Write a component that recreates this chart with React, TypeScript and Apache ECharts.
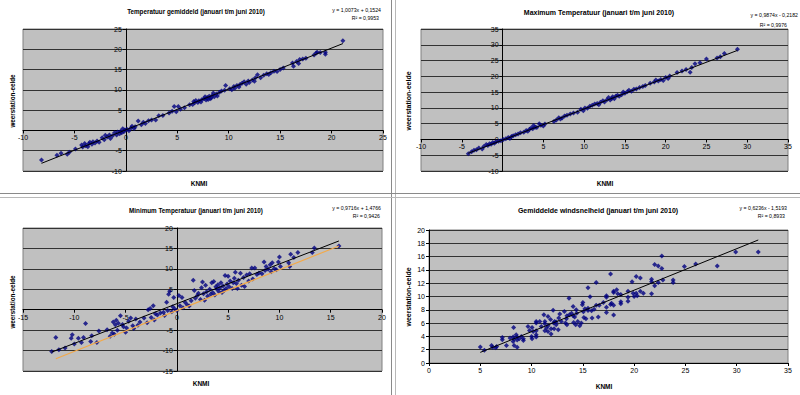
import React, { useEffect, useRef } from "react";
import * as echarts from "echarts";

const FONT = "'Liberation Sans', Arial, sans-serif";

// Temperatuur gemiddeld: [KNMI, weerstation-eelde]
const meanTemp: number[][] = [
  [-8.2, -7.3], [-6.7, -6.1], [-6.3, -5.6], [-5.7, -5.9], [-5.5, -5.4], [-4.9, -4.6], [-4.3, -3.6], [-4.2, -4.1],
  [-4.0, -3.2], [-3.9, -3.8], [-3.7, -4.0], [-3.6, -3.3], [-3.5, -2.9], [-3.3, -3.4], [-3.2, -2.8], [-3.0, -3.1],
  [-2.8, -2.6], [-2.6, -2.9], [-2.3, -1.8], [-2.1, -2.3], [-2.0, -1.2], [-1.8, -1.6], [-1.6, -1.1], [-1.5, -2.0],
  [-1.3, -1.3], [-1.1, -0.6], [-0.9, -1.1], [-0.8, -0.4], [-0.6, -0.8], [-0.5, -0.2], [-0.4, -0.6], [-0.3, 0.4],
  [-0.2, -0.3], [-0.1, 0.1], [0.1, 0.3], [0.3, -0.1], [0.5, 0.6], [0.6, 1.0], [0.8, 0.5], [0.9, 0.9],
  [1.2, 2.3], [1.5, 1.4], [1.7, 2.0], [1.9, 1.7], [2.2, 2.4], [2.5, 2.6], [2.9, 2.6], [3.2, 3.6],
  [3.6, 3.7], [4.2, 4.3], [4.5, 4.7], [4.7, 5.9], [4.9, 4.6], [5.1, 5.9], [5.3, 5.2], [5.7, 5.6],
  [6.2, 6.3], [6.5, 6.4], [6.6, 7.1], [6.7, 6.8], [6.8, 7.4], [7.0, 6.9], [7.1, 7.3], [7.3, 7.0],
  [7.4, 7.6], [7.6, 7.8], [7.7, 8.3], [7.8, 7.5], [7.9, 8.1], [8.0, 7.6], [8.1, 8.4], [8.2, 7.8],
  [8.3, 8.0], [8.4, 8.6], [8.5, 9.2], [8.6, 8.3], [8.8, 9.0], [8.9, 8.5], [9.1, 9.4], [9.3, 9.7],
  [9.7, 11.1], [9.6, 9.9], [10.1, 10.3], [10.3, 10.0], [10.5, 10.8], [10.6, 10.4], [10.8, 11.1], [11.0, 10.7],
  [11.1, 11.3], [11.3, 11.6], [11.5, 12.0], [11.7, 11.4], [11.9, 12.2], [12.0, 11.8], [12.3, 12.4], [12.5, 12.1],
  [12.6, 13.0], [12.8, 13.7], [13.1, 13.0], [13.4, 13.6], [13.7, 14.0], [13.9, 13.8], [14.1, 14.2], [14.4, 14.6],
  [14.7, 14.5], [15.0, 15.0], [15.3, 15.4], [16.2, 16.6], [16.3, 15.8], [16.6, 17.0], [16.8, 16.5], [16.9, 17.5],
  [17.2, 17.6], [17.5, 17.8], [18.3, 18.6], [18.5, 19.1], [18.6, 19.3], [18.9, 19.2], [19.4, 18.8], [19.4, 19.3],
  [21.1, 22.1],
];

// Maximum Temperatuur
const maxTemp: number[][] = [
  [-4.2, -4.5], [-3.8, -3.9], [-3.5, -3.4], [-3.2, -3.3], [-2.9, -2.7], [-2.5, -3.0], [-2.3, -2.2], [-2.0, -1.6],
  [-1.8, -1.9], [-1.6, -1.4], [-1.4, -1.5], [-1.2, -1.0], [-1.0, -1.2], [-0.8, -0.7], [-0.5, -0.6], [-0.2, -0.4],
  [0.1, 0.0], [0.4, 0.2], [0.7, 0.6], [0.9, 0.3], [1.1, 0.9], [1.3, 1.2], [1.6, 1.5], [1.9, 1.7],
  [2.2, 2.1], [2.6, 2.3], [2.9, 2.8], [3.1, 2.6], [3.3, 3.2], [3.5, 3.6], [3.7, 3.4], [3.8, 4.4],
  [4.0, 3.9], [4.2, 3.8], [4.5, 5.0], [4.7, 4.5], [5.0, 4.3], [5.2, 4.9], [6.3, 5.7], [6.6, 6.2],
  [6.9, 6.9], [7.1, 6.5], [7.3, 6.8], [7.6, 7.4], [7.9, 7.7], [8.3, 8.1], [8.7, 8.4], [9.2, 8.6],
  [9.6, 9.6], [9.9, 9.1], [10.1, 10.0], [10.4, 9.9], [10.7, 10.5], [11.0, 10.8], [11.3, 11.2], [11.6, 11.4],
  [11.8, 11.0], [12.0, 11.8], [12.3, 12.3], [12.5, 11.9], [12.8, 12.6], [13.0, 13.3], [13.2, 12.5], [13.4, 13.0],
  [13.5, 13.5], [13.7, 12.9], [13.9, 13.8], [14.1, 14.0], [14.3, 13.7], [14.6, 14.2], [14.8, 15.0], [15.0, 14.6],
  [15.3, 15.1], [15.5, 15.6], [15.8, 15.3], [16.1, 15.9], [16.4, 16.0], [16.8, 16.5], [17.2, 16.8], [17.5, 17.1],
  [18.1, 17.8], [18.6, 18.2], [18.8, 18.8], [19.1, 18.5], [19.4, 19.0], [19.7, 18.7], [20.0, 19.6], [20.3, 19.3],
  [20.5, 20.1], [21.4, 21.2], [22.0, 21.7], [22.5, 22.2], [23.0, 21.3], [23.2, 22.8], [23.6, 24.0], [24.2, 24.3],
  [25.0, 25.5], [26.3, 25.8], [26.7, 26.2], [27.2, 27.2], [28.8, 28.6],
];

// Minimum Temperatuur
const minTemp: number[][] = [
  [-12.2, -10.2], [-11.8, -6.8], [-11.5, -9.8], [-10.9, -9.4], [-10.3, -7.0], [-10.2, -6.1], [-10.0, -8.4], [-9.6, -7.0],
  [-9.3, -8.0], [-9.1, -6.8], [-8.9, -3.4], [-8.4, -7.8], [-8.3, -6.4], [-7.8, -8.0], [-7.6, -5.2], [-6.8, -4.9],
  [-6.5, -6.5], [-6.3, -5.7], [-6.2, -3.0], [-6.1, -6.0], [-6.0, -3.7], [-5.9, -2.6], [-5.8, -5.0], [-5.7, -3.3],
  [-5.5, -1.5], [-5.3, -3.6], [-5.2, -4.2], [-5.0, -5.5], [-4.9, -4.5], [-4.7, -2.8], [-4.5, -2.0], [-4.3, -3.9],
  [-4.2, -4.6], [-4.0, -2.3], [-3.8, -3.8], [-3.6, -3.0], [-3.2, -2.0], [-2.9, -3.2], [-2.8, 0.0], [-2.6, 0.3],
  [-2.5, -1.9], [-2.3, 1.0], [-2.2, -2.5], [-2.1, -1.0], [-1.9, -1.3], [-1.6, -0.8], [-1.3, -0.6], [-1.2, -1.4],
  [-1.0, 1.8], [-0.9, -0.2], [-0.8, 3.8], [-0.7, 4.5], [-0.5, -0.5], [-0.4, 0.7], [-0.3, 3.0], [-0.2, 0.2],
  [0.0, -0.2], [0.2, 3.5], [0.3, 1.0], [0.5, 3.0], [0.6, 0.5], [0.8, 1.8], [1.0, 1.2], [1.2, 0.9],
  [1.4, 2.2], [1.6, 7.2], [1.7, 4.7], [1.8, 2.8], [2.0, 3.5], [2.1, 4.0], [2.3, 2.5], [2.4, 5.4],
  [2.5, 6.8], [2.6, 3.9], [2.7, 2.3], [2.8, 6.0], [2.9, 4.4], [3.0, 3.3], [3.2, 5.0], [3.3, 3.8],
  [3.4, 6.6], [3.5, 4.2], [3.6, 6.9], [3.7, 3.6], [3.8, 5.6], [3.9, 5.0], [4.0, 6.1], [4.1, 4.4],
  [4.2, 5.4], [4.3, 6.6], [4.4, 4.2], [4.5, 5.8], [4.6, 4.7], [4.7, 8.4], [4.8, 5.2], [4.9, 6.3],
  [5.0, 8.2], [5.1, 5.6], [5.2, 7.0], [5.4, 5.2], [5.5, 6.6], [5.6, 7.7], [5.7, 9.2], [5.8, 6.4],
  [5.9, 5.2], [6.0, 7.2], [6.2, 8.9], [6.3, 6.0], [6.5, 7.9], [6.6, 5.7], [6.8, 8.5], [7.0, 7.0],
  [7.1, 8.8], [7.3, 10.2], [7.4, 7.5], [7.6, 10.2], [7.8, 8.6], [8.0, 9.0], [8.3, 8.8], [8.5, 11.7],
  [8.6, 9.6], [8.7, 10.6], [8.9, 9.9], [9.1, 11.0], [9.2, 9.3], [9.3, 11.5], [9.5, 10.1], [9.7, 9.8],
  [9.9, 11.7], [10.0, 12.9], [10.1, 10.6], [10.9, 11.5], [11.0, 10.6], [11.1, 13.6], [11.4, 12.8], [11.8, 14.0],
  [13.2, 14.0], [13.4, 15.1], [15.8, 15.6],
];

// Gemiddelde windsnelheid
const windSpeed: number[][] = [
  [5.0, 2.4], [5.4, 1.9], [6.1, 2.65], [6.2, 2.35], [6.6, 2.5], [6.5, 2.3], [7.15, 3.85], [7.15, 3.5],
  [7.55, 2.65], [7.9, 3.75], [8.2, 3.9], [8.2, 3.25], [8.25, 5.35], [8.3, 2.65], [8.3, 3.6], [8.5, 4.25],
  [8.6, 3.45], [8.6, 2.35], [8.6, 3.9], [8.8, 3.65], [9.0, 4.0], [9.2, 3.65], [9.2, 3.4], [9.65, 5.5],
  [9.8, 4.9], [10.0, 4.0], [10.05, 3.65], [10.05, 5.35], [10.15, 4.75], [10.45, 6.25], [10.45, 6.0], [10.45, 4.25],
  [10.45, 4.85], [10.45, 3.9], [10.8, 6.25], [10.95, 5.5], [11.2, 7.25], [11.3, 6.25], [11.3, 4.85], [11.3, 5.9],
  [11.45, 5.25], [11.6, 4.75], [11.6, 7.0], [11.6, 5.6], [11.85, 6.55], [11.9, 4.35], [11.9, 5.15], [12.1, 7.95],
  [12.15, 6.0], [12.2, 5.15], [12.25, 6.25], [12.4, 6.15], [12.4, 5.75], [12.6, 5.0], [12.65, 6.75], [12.75, 7.35],
  [12.9, 6.25], [13.2, 7.75], [13.3, 6.0], [13.4, 6.65], [13.45, 5.75], [13.45, 7.1], [13.65, 9.75], [13.7, 7.25],
  [13.9, 7.5], [14.05, 8.5], [14.05, 7.1], [14.1, 6.1], [14.2, 6.9], [14.3, 5.75], [14.35, 8.0], [14.4, 7.5],
  [14.5, 6.25], [14.7, 5.6], [14.85, 6.0], [14.95, 8.75], [15.0, 9.1], [15.05, 7.7], [15.1, 6.85], [15.2, 8.15],
  [15.3, 6.65], [15.5, 8.25], [15.5, 11.3], [15.5, 7.9], [15.7, 9.95], [15.85, 7.85], [15.9, 6.75], [16.1, 8.1],
  [16.3, 12.1], [16.3, 8.7], [16.5, 6.9], [16.6, 8.7], [17.0, 9.1], [17.3, 10.1], [17.3, 9.9], [17.3, 8.4],
  [17.3, 7.6], [17.7, 13.4], [17.7, 8.8], [17.8, 9.0], [18.0, 10.8], [18.0, 10.6], [18.0, 7.2], [18.0, 8.7],
  [18.3, 11.0], [18.4, 10.4], [18.7, 10.3], [18.7, 9.2], [18.7, 8.9], [19.4, 10.8], [19.4, 9.9], [19.4, 9.3],
  [19.8, 12.2], [19.9, 10.5], [20.0, 10.0], [20.2, 13.0], [20.2, 10.5], [20.3, 10.1], [20.6, 12.8], [20.6, 10.8],
  [20.9, 10.5], [21.7, 12.6], [21.7, 12.2], [21.7, 10.4], [22.0, 14.8], [22.0, 11.6], [22.35, 14.6], [22.35, 12.1],
  [22.7, 16.1], [22.7, 14.2], [22.8, 12.5], [23.8, 12.5], [23.8, 12.1], [24.9, 14.5], [26.0, 14.9], [28.1, 14.6],
  [29.9, 16.7], [32.1, 16.7],
];

// reference line y = x in the minimum-temperature chart
const minTempReference: number[][] = [[-11.8, -12.0], [15.8, 15.6]];

const titles = [
  "Temperatuur gemiddeld (januari t/m juni 2010)",
  "Maximum Temperatuur (januari t/m juni 2010)",
  "Minimum Temperatuur (januari t/m juni 2010)",
  "Gemiddelde windsnelheid (januari t/m juni 2010)",
];
const equations = [
  "y = 1,0073x + 0,1524",
  "y = 0,9874x - 0,2182",
  "y = 0,9716x + 1,4766",
  "y = 0,6236x - 1,5193",
];
const rSquared = ["R² = 0,9953", "R² = 0,9976", "R² = 0,9426", "R² = 0,8933"];
const trendSlope = [1.0073, 0.9874, 0.9716, 0.6236];
const trendIntercept = [0.1524, -0.2182, 1.4766, -1.5193];
const xMin = [-10, -10, -15, 0];
const xMax = [25, 35, 20, 35];
const yMin = [-10, -10, -15, 0];
const yMax = [25, 35, 20, 20];
const yInterval = [5, 5, 5, 2];
const xAxisName = "KNMI";
const yAxisName = "weerstation-eelde";

const datasets = [meanTemp, maxTemp, minTemp, windSpeed];

// layout
const grids = [
  { left: 23, top: 29, width: 360, height: 142 },
  { left: 421, top: 29, width: 367, height: 142 },
  { left: 23, top: 228, width: 359, height: 143 },
  { left: 429, top: 230, width: 359, height: 133 },
];
const titlePos = [[196, 11], [599, 12.5], [196, 210], [598, 210]];
const titleSize = [6.3, 7, 6.3, 7];
const eqPos = [[381, 10, 379, 17.5], [798, 15, 787, 24.5], [381, 207.5, 380, 215.5], [787, 207.5, 785, 216]];
const yNamePos = [[12, 101], [408, 101], [12, 302], [408, 297]];
const xNamePos = [[199, 183], [605, 183.5], [201, 383.5], [604, 386.5]];

function trendLine(i: number): number[][] {
  const xs = datasets[i].map((p) => p[0]);
  const a = Math.min(...xs);
  const b = Math.max(...xs);
  return [a, b].map((x) => [x, trendSlope[i] * x + trendIntercept[i]]);
}

// distance (px) of the value 0 from the grid's lower / left edge, used to let the axes cross at zero
function zeroOffset(min: number, max: number, size: number): number {
  if (min >= 0) return 0;
  return -((0 - min) / (max - min)) * size;
}

export default function App() {
  const ref = useRef<HTMLDivElement>(null);
  useEffect(() => {
    if (!ref.current) return;
    const chart = echarts.init(ref.current, undefined, { renderer: "svg" });
    const axisLabel = { fontSize: 7, color: "#000", fontFamily: FONT, margin: 4 };
    const xAxis = grids.map((g, i) => ({
      type: "value",
      gridIndex: i,
      position: "bottom",
      offset: zeroOffset(yMin[i], yMax[i], g.height),
      min: xMin[i],
      max: xMax[i],
      interval: 5,
      axisLine: { show: true, onZero: false, lineStyle: { color: "#000", width: 1 } },
      axisTick: { show: true, length: 3, lineStyle: { color: "#000" } },
      axisLabel: {
        ...axisLabel,
        formatter: (v: number) => (i === 1 && v === 0 ? "" : String(v)),
      },
      splitLine: { show: false },
    }));
    const yAxis = grids.map((g, i) => ({
      type: "value",
      gridIndex: i,
      position: "left",
      offset: zeroOffset(xMin[i], xMax[i], g.width),
      min: yMin[i],
      max: yMax[i],
      interval: yInterval[i],
      axisLine: { show: true, onZero: false, lineStyle: { color: "#000", width: 1 } },
      axisTick: { show: true, length: 3, lineStyle: { color: "#000" } },
      axisLabel: {
        ...axisLabel,
        formatter: (v: number) => ((i === 0 || i === 2) && v === 0 ? "" : String(v)),
      },
      splitLine: { show: true, lineStyle: { color: "#333", width: 1 } },
    }));
    const series: any[] = [];
    datasets.forEach((d, i) => {
      series.push({
        type: "scatter",
        xAxisIndex: i,
        yAxisIndex: i,
        data: d,
        symbol: "diamond",
        symbolSize: 5,
        itemStyle: { color: "#000080" },
        z: 2,
      });
    });
    series.push({
      type: "line",
      xAxisIndex: 2,
      yAxisIndex: 2,
      data: minTempReference,
      symbol: "none",
      lineStyle: { color: "#F2A94A", width: 1.2 },
      z: 3,
    });
    datasets.forEach((_, i) => {
      series.push({
        type: "line",
        xAxisIndex: i,
        yAxisIndex: i,
        data: trendLine(i),
        symbol: "none",
        lineStyle: { color: "#000", width: 1 },
        z: 4,
      });
    });

    const graphics: any[] = [];
    // sheet separators
    graphics.push({ type: "line", shape: { x1: 391.5, y1: 0, x2: 391.5, y2: 395 }, style: { stroke: "#8a8a8a", lineWidth: 1 } });
    graphics.push({ type: "line", shape: { x1: 395.5, y1: 0, x2: 395.5, y2: 395 }, style: { stroke: "#b8b8b8", lineWidth: 1 } });
    graphics.push({ type: "line", shape: { x1: 0, y1: 193.5, x2: 800, y2: 193.5 }, style: { stroke: "#8a8a8a", lineWidth: 1 } });
    graphics.push({ type: "line", shape: { x1: 0, y1: 197.5, x2: 800, y2: 197.5 }, style: { stroke: "#b8b8b8", lineWidth: 1 } });
    titles.forEach((t, i) => {
      graphics.push({
        type: "text",
        x: titlePos[i][0],
        y: titlePos[i][1],
        style: { text: t, fontSize: titleSize[i], fontWeight: "bold", fontFamily: FONT, fill: "#000", align: "center", verticalAlign: "middle" },
      });
      graphics.push({
        type: "text",
        x: eqPos[i][0],
        y: eqPos[i][1],
        style: { text: equations[i], fontSize: 5.2, fontFamily: FONT, fill: "#000", align: "right", verticalAlign: "middle" },
      });
      graphics.push({
        type: "text",
        x: eqPos[i][2],
        y: eqPos[i][3],
        style: { text: rSquared[i], fontSize: 5.2, fontFamily: FONT, fill: "#000", align: "right", verticalAlign: "middle" },
      });
      graphics.push({
        type: "text",
        x: yNamePos[i][0],
        y: yNamePos[i][1],
        rotation: Math.PI / 2,
        style: { text: yAxisName, fontSize: i % 2 === 0 ? 6.3 : 7, fontWeight: "bold", fontFamily: FONT, fill: "#000", align: "center", verticalAlign: "middle" },
      });
      graphics.push({
        type: "text",
        x: xNamePos[i][0],
        y: xNamePos[i][1],
        style: { text: xAxisName, fontSize: 6.5, fontWeight: "bold", fontFamily: FONT, fill: "#000", align: "center", verticalAlign: "middle" },
      });
    });

    chart.setOption({
      animation: false,
      backgroundColor: "#fff",
      grid: grids.map((g) => ({
        ...g,
        show: true,
        backgroundColor: "#C0C0C0",
        borderColor: "#808080",
        borderWidth: 1,
        containLabel: false,
      })),
      xAxis,
      yAxis,
      series,
      graphic: graphics,
    });
    return () => chart.dispose();
  }, []);
  return (
    <div
      ref={ref}
      style={{ position: "absolute", left: 0, top: 0, width: 800, height: 395 }}
    />
  );
}
